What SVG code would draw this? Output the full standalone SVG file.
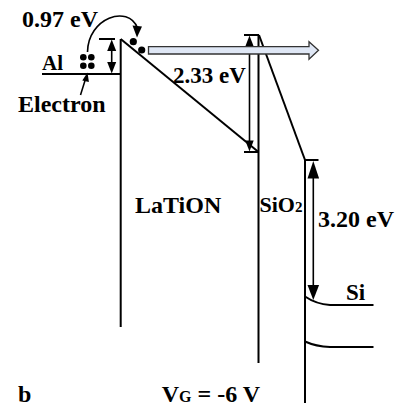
<svg xmlns="http://www.w3.org/2000/svg" width="406" height="406" viewBox="0 0 406 406">
<style>
.ln{stroke:#000;stroke-width:2;fill:none}
.ar{stroke:#000;stroke-width:1.6;fill:none}
.hd{fill:#000;stroke:none}
.t{font-family:"Liberation Serif","Times New Roman",serif;font-weight:bold;fill:#000}
</style>
<rect width="406" height="406" fill="#fff"/>
<g id="al-metal">
<line class="ln" x1="42" y1="74" x2="121" y2="74"/>
<text class="t" x="42" y="70" font-size="21">Al</text>
<circle cx="83.3" cy="57.3" r="3.3"/>
<circle cx="91.3" cy="57.3" r="3.3"/>
<circle cx="83.3" cy="65.7" r="3.3"/>
<circle cx="91.3" cy="65.7" r="3.3"/>
<text class="t" x="18" y="111.5" font-size="24">Electron</text>
</g>
<g id="latiON">
<line class="ln" x1="120.7" y1="39" x2="120.7" y2="327"/>
<line class="ln" x1="120.7" y1="39" x2="258.5" y2="152"/>
<line class="ln" x1="244" y1="152" x2="258.5" y2="152"/>
<text class="t" x="135" y="213" font-size="24">LaTiON</text>
<circle cx="133.3" cy="41.7" r="3.6"/>
<circle cx="141.7" cy="50" r="3.6"/>
</g>
<g id="sio2">
<line class="ln" x1="258.5" y1="35" x2="258.5" y2="363"/>
<line class="ln" x1="244" y1="35" x2="259" y2="35"/>
<line class="ln" x1="259" y1="35" x2="305" y2="160"/>
<text class="t" x="259.5" y="212" font-size="22">SiO<tspan font-size="15">2</tspan></text>
</g>
<g id="si">
<line class="ln" x1="305" y1="160" x2="305" y2="403"/>
<line class="ln" x1="305" y1="160" x2="318.5" y2="160"/>
<path class="ln" d="M305,296.5 Q316,304 330,305 L373.5,305"/>
<path class="ln" d="M305,341.5 Q316,346.5 330,347 L373.5,347"/>
<text class="t" x="346" y="300" font-size="23">Si</text>
</g>
<g id="connectors">
<!-- 0.97 eV double arrow -->
<line class="ln" x1="99" y1="39" x2="115" y2="39"/>
<line class="ar" x1="111.7" y1="48" x2="111.7" y2="64"/>
<polygon class="hd" points="111.7,39.5 107.2,51 116.2,51"/>
<polygon class="hd" points="111.7,73.5 107.2,62 116.2,62"/>
<!-- 2.33 eV double arrow -->
<line class="ar" x1="249.5" y1="44" x2="249.5" y2="143"/>
<polygon class="hd" points="249.5,35.5 245.3,46.5 253.7,46.5"/>
<polygon class="hd" points="249.5,151.5 245.3,140.5 253.7,140.5"/>
<!-- 3.20 eV double arrow -->
<line class="ar" x1="313.3" y1="175" x2="313.3" y2="286"/>
<polygon class="hd" points="313.3,161 307.5,178.5 319.1,178.5"/>
<polygon class="hd" points="313.3,300 307.5,285 319.1,285"/>
<!-- curved tunnelling arrow -->
<path class="ar" d="M87.5,52 C88,18 128,4 137.5,28"/>
<polygon class="hd" points="137,37.5 132.5,25.5 142,26.5"/>
<!-- electron pointer -->
<line class="ar" x1="80.5" y1="95" x2="85.5" y2="79"/>
<polygon class="hd" points="87.5,72.5 82.3,80.5 88.9,82"/>
<!-- hollow horizontal arrow -->
<path d="M148.5,46.7 L309,46.7 L309,41.7 L318.5,50.3 L309,59.2 L309,54 L148.5,54 Z" fill="#dfe7f5" stroke="#333" stroke-width="1.3"/>
</g>
<g id="labels">
<text class="t" x="22" y="27" font-size="24">0.97 eV</text>
<text class="t" x="173" y="83" font-size="23">2.33 eV</text>
<text class="t" x="318" y="226.5" font-size="24">3.20 eV</text>
<text class="t" x="18" y="402" font-size="24">b</text>
<text class="t" x="161.7" y="402" font-size="24">V<tspan font-size="16">G</tspan> = -6 V</text>
</g>
</svg>
